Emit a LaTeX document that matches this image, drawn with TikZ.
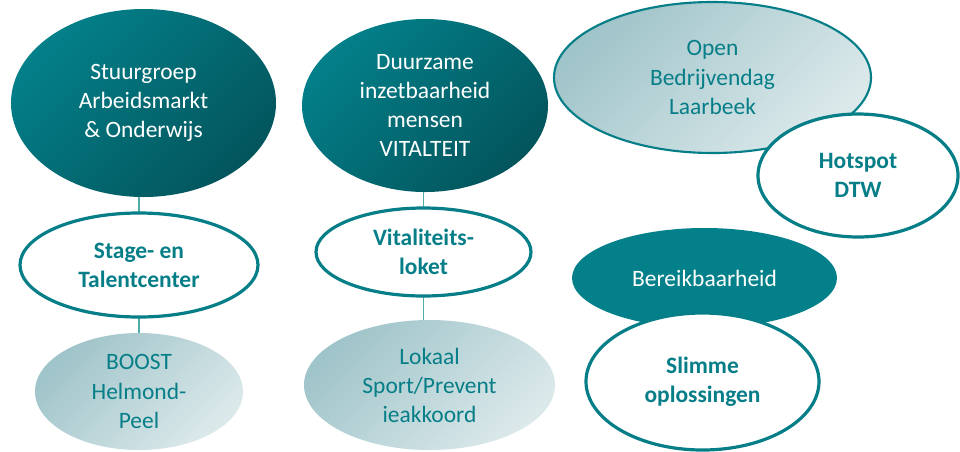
\documentclass[tikz,border=0pt]{standalone}
\usepackage{fontspec}
\setmainfont{Carlito}
\usetikzlibrary{shapes.geometric,backgrounds}
\definecolor{tealdark}{HTML}{03808A}
\definecolor{tealdeep}{HTML}{03555C}
\definecolor{teallight}{HTML}{9FC4C9}
\definecolor{tealpale}{HTML}{DCE9EB}
\definecolor{tealline}{HTML}{067E88}
\definecolor{tealconn}{HTML}{4FAEA9}

\begin{document}
\begin{tikzpicture}[x=0.75pt,y=-0.75pt,
  bubble/.style={ellipse,inner sep=0pt,outer sep=0pt,align=center,
    font=\fontsize{17.6}{21.8}\selectfont},
  darkbubble/.style={bubble,top color=tealdark,bottom color=tealdeep,
    shading angle=45,text=white},
  lightbubble/.style={bubble,top color=teallight,bottom color=tealpale,
    shading angle=45,text=tealline},
  ringbubble/.style={bubble,draw=tealline,fill=white,line width=2.4pt,
    text=tealline,font=\fontsize{17.6}{21.8}\selectfont\bfseries},
  conn/.style={tealconn,line width=0.9pt}]
  \useasboundingbox (0,0) rectangle (960,451);

  % column 1
  \node[darkbubble,minimum width=198.75pt,minimum height=141pt] (stuur) at (143.5,103)
    {Stuurgroep\\Arbeidsmarkt\\\& Onderwijs};
  \node[ringbubble,minimum width=178.5pt,minimum height=78pt] (stage) at (139,265)
    {Stage- en\\Talentcenter};
  \node[lightbubble,minimum width=156pt,minimum height=87.75pt] (boost) at (139,391.5)
    {BOOST\\Helmond-\\Peel};

  % column 2
  \node[darkbubble,minimum width=184.5pt,minimum height=129.75pt] (duur) at (425,105.5)
    {Duurzame\\inzetbaarheid\\mensen\\VITALTEIT};
  \node[ringbubble,minimum width=161.25pt,minimum height=66pt] (vital) at (423.5,252)
    {Vitaliteits-\\loket};
  \node[lightbubble,minimum width=188.25pt,minimum height=97.5pt] (lokaal) at (429.5,385)
    {Lokaal\\Sport/Prevent\\ieakkoord};

  % column 3
  \node[lightbubble,draw=tealline,line width=1.6pt,minimum width=237.75pt,minimum height=113.25pt]
    (open) at (712.5,77.5) {Open\\Bedrijvendag\\Laarbeek};
  \node[ringbubble,minimum width=150pt,minimum height=92.25pt] (hotspot) at (858,175.5)
    {Hotspot\\DTW};
  \node[bubble,fill=tealdark,text=white,minimum width=198.75pt,minimum height=75pt]
    (bereik) at (704.5,278) {Bereikbaarheid};
  \node[ringbubble,minimum width=174.75pt,minimum height=102.75pt] (slim) at (702.5,381.5)
    {Slimme\\oplossingen};

  \begin{scope}[on background layer]
    \draw[conn] (stage) -- (stage |- stuur);
    \draw[conn] (stage) -- (boost);
    \draw[conn] (vital) -- (vital |- duur);
    \draw[conn] (vital) -- (vital |- lokaal);
  \end{scope}
\end{tikzpicture}
\end{document}
